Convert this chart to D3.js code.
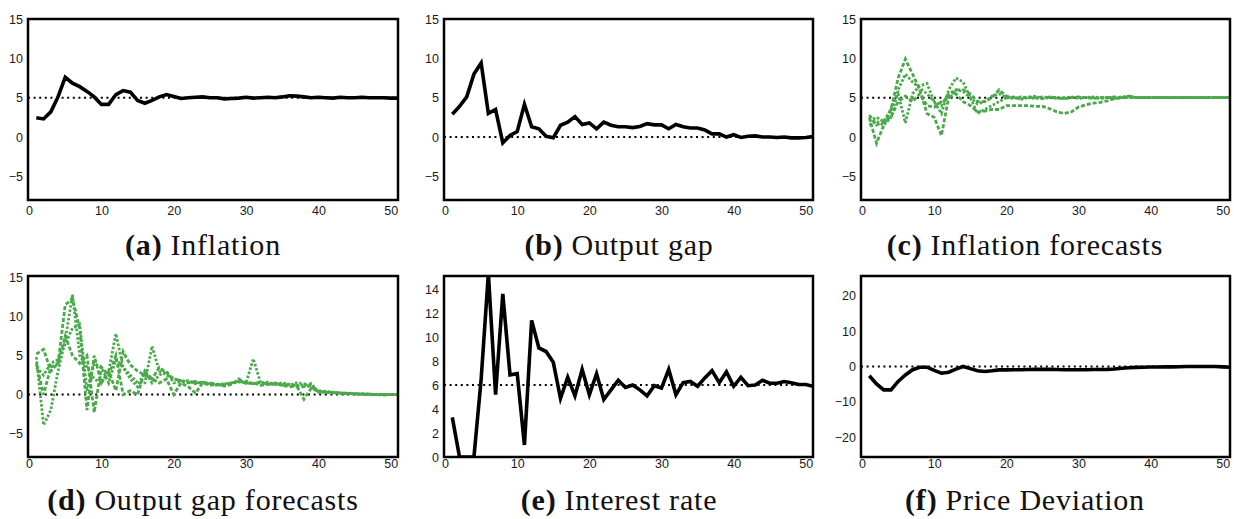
<!DOCTYPE html>
<html>
<head>
<meta charset="utf-8">
<script src="https://cdn.jsdelivr.net/npm/d3@7"></script>
<style>
  html, body { margin: 0; padding: 0; background: #fff; }
  svg { display: block; }
</style>
</head>
<body>
<svg id="chart" width="1234" height="519"></svg>
<script>
// ---------------- DATA (periods 1..51) ----------------
const inflation = [2.45,2.3,3.2,5.1,7.6,6.85,6.4,5.8,5.1,4.15,4.15,5.4,5.9,5.7,4.65,4.3,4.65,5.1,5.4,5.15,
  4.9,5.0,5.05,5.1,5.0,5.0,4.85,4.9,4.95,5.05,4.95,5.0,5.05,5.0,5.1,5.25,5.2,5.1,5.0,5.05,
  5.0,4.95,5.05,5.0,5.0,5.05,5.0,5.0,5.0,4.95,4.95];

const outputGap = [2.9,3.9,5.1,8.0,9.4,3.0,3.5,-0.75,0.2,0.7,4.15,1.3,1.05,0.1,-0.1,1.5,1.9,2.6,1.6,1.8,
  1.05,1.9,1.5,1.3,1.3,1.2,1.35,1.7,1.55,1.55,1.05,1.6,1.3,1.15,1.15,0.9,0.4,0.4,0.0,0.3,
  -0.05,0.1,0.15,0.0,0.0,-0.05,0.0,-0.1,-0.1,-0.05,0.05];

const inflForecast1 = [2.5,-0.8,1.5,3.5,7.5,9.9,8.0,6.0,3.0,2.5,0.2,5.0,6.0,6.0,5.5,4.5,4.5,5.0,6.0,5.2,
  5.0,4.9,5.1,5.0,4.9,5.1,5.0,4.9,5.0,5.1,5.0,4.9,5.0,5.0,5.1,5.0,5.1,5.0,5.0,5.0,
  5.0,5.0,5.0,5.0,5.0,5.0,5.0,5.0,5.0,5.0,5.0];
const inflForecast2 = [2.0,2.5,2.0,3.5,5.5,1.8,5.5,6.5,6.8,4.5,3.0,6.0,7.5,7.0,5.0,3.0,3.5,4.0,4.5,5.0,
  5.1,4.8,5.0,5.2,4.9,5.0,4.9,5.0,5.1,4.9,5.0,5.0,4.9,5.0,5.0,5.1,5.2,5.0,5.0,5.0,
  5.0,5.0,5.0,5.0,5.0,5.0,5.0,5.0,5.0,5.0,5.0];
const inflForecast3 = [2.8,1.5,2.0,2.5,4.5,5.2,4.5,5.5,4.0,3.8,4.5,5.0,5.5,4.5,4.0,3.2,3.3,3.5,3.5,4.0,
  4.0,4.0,4.0,3.9,3.9,3.6,3.2,3.0,3.2,3.8,4.1,4.3,4.4,4.6,4.9,5.0,5.2,5.0,5.0,5.0,
  5.0,5.0,5.0,5.0,5.0,5.0,5.0,5.0,5.0,5.0,5.0];
const inflForecast4 = [1.5,2.0,1.5,2.5,6.0,8.0,7.0,6.2,5.5,4.5,4.0,5.5,6.0,5.8,5.0,4.2,4.5,5.2,5.5,5.0,
  4.9,5.1,5.0,4.9,5.1,5.0,5.0,4.9,5.0,5.0,5.0,5.1,5.0,5.0,4.9,5.0,5.1,5.0,5.0,5.0,
  5.0,5.0,5.0,5.0,5.0,5.0,5.0,5.0,5.0,5.0,5.0];

const gapForecast1 = [4.8,-3.9,-2.0,3.0,7.0,12.8,5.0,3.5,2.0,1.5,3.0,7.8,3.5,2.5,1.5,1.5,6.2,3.0,2.5,2.0,
  1.8,1.6,1.5,1.6,1.4,1.3,1.4,1.5,1.6,1.5,4.6,1.5,1.4,1.3,1.5,1.3,1.2,1.2,1.4,0.3,
  0.3,0.2,0.2,0.15,0.1,0.1,0.05,0.0,0.0,0.0,0.0];
const gapForecast2 = [5.2,5.8,3.0,4.0,11.5,12.3,8.5,-2.0,5.0,1.5,3.0,0.5,5.5,3.8,3.0,2.5,2.0,3.5,2.8,2.0,
  1.8,1.5,1.7,1.4,1.5,1.3,1.2,1.4,1.8,1.5,1.4,1.6,1.3,1.5,1.2,1.3,1.1,-0.6,0.8,0.4,
  0.3,0.25,0.2,0.15,0.1,0.05,0.05,0.0,0.0,0.0,0.0];
const gapForecast3 = [4.0,0.0,3.5,4.0,7.5,5.0,4.0,5.0,-2.3,3.5,2.5,5.0,0.0,0.5,0.0,3.0,2.0,1.5,2.0,0.0,
  1.5,1.0,0.2,1.5,1.2,1.3,1.1,1.3,2.0,1.4,1.5,1.2,1.3,1.4,1.2,1.0,1.1,1.0,1.2,0.4,
  0.35,0.25,0.2,0.15,0.1,0.05,0.0,0.0,-0.05,0.0,0.0];
const gapForecast4 = [3.5,2.5,4.0,4.5,6.5,8.5,9.0,0.5,4.0,3.5,1.5,4.5,3.5,2.0,1.0,3.0,1.5,2.5,3.0,1.5,
  1.6,1.8,1.4,1.6,1.3,1.2,1.3,1.5,1.7,1.6,1.4,1.5,1.6,1.3,1.4,1.2,1.5,1.4,0.9,0.5,
  0.4,0.3,0.2,0.2,0.1,0.1,0.05,0.0,0.0,0.0,0.0];

const interestRate = [3.3,0.0,0.0,0.0,6.5,15.3,5.2,13.6,6.85,6.95,1.0,11.4,9.1,8.8,7.9,4.9,6.65,5.1,7.3,5.2,
  6.95,4.8,5.6,6.4,5.8,6.0,5.6,5.1,5.95,5.75,7.3,5.2,6.2,6.3,5.9,6.6,7.2,6.2,7.1,5.9,
  6.65,5.95,6.0,6.4,6.15,6.15,6.3,6.2,6.05,6.05,5.9];

const priceDeviation = [-2.6,-4.9,-6.6,-6.6,-4.2,-2.4,-0.9,-0.2,-0.2,-1.1,-1.9,-1.6,-0.75,0.0,-0.6,-1.2,-1.4,-1.2,-0.95,-0.95,
  -0.9,-0.9,-0.85,-0.8,-0.8,-0.8,-0.85,-0.9,-0.9,-0.9,-0.9,-0.85,-0.85,-0.8,-0.7,-0.5,-0.35,-0.25,-0.2,-0.15,
  -0.15,-0.1,-0.1,-0.05,0.0,0.0,0.0,0.0,0.0,-0.1,-0.2];

const xTicks = [0,10,20,30,40,50];
const yTicksStd = [-5,0,5,10,15];
const yTicksRate = [0,2,4,6,8,10,12,14];
const yTicksPrice = [-20,-10,0,10,20];

const captionLetters = ["(a)","(b)","(c)","(d)","(e)","(f)"];
const captionTexts = ["Inflation","Output gap","Inflation forecasts","Output gap forecasts","Interest rate","Price Deviation"];

// ---------------- LAYOUT ----------------
const BLACK = "#000";
const GREEN = "#4aa94a";
const cols = [{l:28,r:398,c:203},{l:444,r:813,c:619},{l:861,r:1230,c:1025}];
const rows = [{t:19,b:200,xl:215,cap:255},{t:276,b:457,xl:468,cap:510}];

const panels = [
  {col:0,row:0,ydom:[-8,15],yt:yTicksStd,ref:5,series:[{v:inflation,c:BLACK}]},
  {col:1,row:0,ydom:[-8,15],yt:yTicksStd,ref:0,series:[{v:outputGap,c:BLACK}]},
  {col:2,row:0,ydom:[-8,15],yt:yTicksStd,ref:5,series:[
    {v:inflForecast3,c:GREEN,d:"4,2"},{v:inflForecast2,c:GREEN,d:"2.5,1.8"},
    {v:inflForecast1,c:GREEN,d:"4,2"},{v:inflForecast4,c:GREEN,d:"2.5,1.8"}]},
  {col:0,row:1,ydom:[-8,15.2],yt:yTicksStd,ref:0,series:[
    {v:gapForecast3,c:GREEN,d:"4,2"},{v:gapForecast4,c:GREEN,d:"2.5,1.8"},
    {v:gapForecast2,c:GREEN,d:"4,2"},{v:gapForecast1,c:GREEN,d:"2.5,1.8"}]},
  {col:1,row:1,ydom:[0,15.1],yt:yTicksRate,ref:6,series:[{v:interestRate,c:BLACK}]},
  {col:2,row:1,ydom:[-25.5,25.5],yt:yTicksPrice,ref:0,series:[{v:priceDeviation,c:BLACK}]}
];

const svg = d3.select("#chart");
const defs = svg.append("defs");

panels.forEach((p, i) => {
  const C = cols[p.col], R = rows[p.row];
  const x = d3.scaleLinear().domain([-0.15, 51]).range([C.l, C.r]);
  const y = d3.scaleLinear().domain(p.ydom).range([R.b, R.t]);
  const g = svg.append("g");

  defs.append("clipPath").attr("id", "clip" + i)
    .append("rect").attr("x", C.l).attr("y", R.t).attr("width", C.r - C.l).attr("height", R.b - R.t);

  // axes (labels only, no tick marks)
  const ya = g.append("g").attr("transform", `translate(${C.l - 5},0)`)
    .call(d3.axisLeft(y).tickValues(p.yt).tickSize(0).tickPadding(0));
  ya.select(".domain").remove();
  ya.selectAll("text").attr("font-family", "Liberation Sans, Arial, sans-serif")
    .attr("font-size", 12.5).attr("fill", "#1a1a1a");

  const xa = g.append("g").attr("transform", `translate(0,${R.xl - 9})`)
    .call(d3.axisBottom(x).tickValues(xTicks).tickSize(0).tickPadding(0));
  xa.select(".domain").remove();
  xa.selectAll("text").attr("font-family", "Liberation Sans, Arial, sans-serif")
    .attr("font-size", 12.5).attr("fill", "#1a1a1a").attr("dy", "0.71em").attr("y", 0);

  const plot = g.append("g").attr("clip-path", `url(#clip${i})`);

  // reference dotted line
  plot.append("line")
    .attr("x1", C.l).attr("x2", C.r)
    .attr("y1", y(p.ref)).attr("y2", y(p.ref))
    .attr("stroke", "#000").attr("stroke-width", 2)
    .attr("stroke-dasharray", "2,3.6");

  const line = d3.line().x((d, k) => x(k + 1)).y(d => y(d));
  p.series.forEach(s => {
    plot.append("path").datum(s.v)
      .attr("d", line)
      .attr("fill", "none")
      .attr("stroke", s.c)
      .attr("stroke-width", s.d ? 2.8 : 3.6)
      .attr("stroke-dasharray", s.d || null)
      .attr("stroke-linejoin", "miter");
  });

  // frame
  g.append("rect").attr("x", C.l).attr("y", R.t)
    .attr("width", C.r - C.l).attr("height", R.b - R.t)
    .attr("fill", "none").attr("stroke", "#000").attr("stroke-width", 2.5);

  // caption
  const cap = svg.append("text")
    .attr("x", C.c).attr("y", R.cap)
    .attr("text-anchor", "middle")
    .attr("font-family", "Liberation Serif, Times New Roman, serif")
    .attr("font-size", 30).attr("fill", "#111")
    .attr("letter-spacing", 0.8);
  cap.append("tspan").attr("font-weight", "bold").text(captionLetters[i]);
  cap.append("tspan").attr("dx", 8).text(captionTexts[i]);
});
</script>
</body>
</html>
